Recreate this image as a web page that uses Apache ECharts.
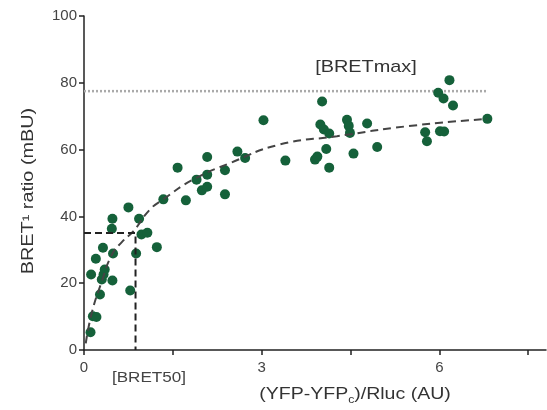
<!DOCTYPE html>
<html>
<head>
<meta charset="utf-8">
<script src="https://cdn.jsdelivr.net/npm/echarts@6/dist/echarts.min.js"></script>
<style>
html,body{margin:0;padding:0;background:#fff;}
#chart{width:547px;height:410px;}
</style>
</head>
<body>
<div id="chart"></div>
<script>
// 数据点 (YFP-YFPc)/Rluc vs BRET ratio
var pointX = [0.11,0.15,0.21,0.27,0.12,0.30,0.33,0.35,0.48,0.78,0.20,0.32,0.49,0.88,0.47,0.48,0.93,0.75,0.97,1.07,
	1.23,1.34,1.72,1.58,1.90,2.08,1.99,2.08,2.38,2.38,2.08,2.59,2.72,3.03,3.40,3.90,3.94,4.02,3.99,4.05,
	4.14,4.09,4.14,4.44,4.47,4.49,4.55,4.78,4.95,5.76,5.79,6.01,6.08,5.98,6.07,6.23,6.17,6.81];
var pointY = [5.3,10.1,9.9,16.6,22.6,21.1,22.6,24.1,20.8,17.8,27.3,30.6,28.9,28.9,36.3,39.3,39.3,42.7,34.6,35.1,
	30.8,45.1,44.8,54.6,51.0,52.5,47.8,48.9,46.6,53.8,57.8,59.4,57.5,68.8,56.7,57.0,57.9,74.4,67.5,66.0,
	64.8,60.2,54.6,68.9,67.1,65.0,58.8,67.8,60.8,65.2,62.5,65.5,65.4,77.0,75.3,73.2,80.8,69.2];
// 拟合曲线
var fitX = [0.03,0.13,0.30,0.47,0.65,0.83,1.11,1.33,1.84,2.47,3.30,4.27,5.46,6.81];
var fitY = [2,11,20.5,28.5,32.5,35.5,42,45,51,56,61.5,64,67,69.2];
// BRETmax / BRET50
var bretMax = 77.5;
var bretMaxEnd = 6.8;
var bret50X = 0.87;
var bret50Y = 35;
// 坐标轴刻度
var xTicks = [0,1.5,3,4.5,6,7.5];
var xLabels = [0,3,6];

var myChart = echarts.init(document.getElementById('chart'));

function zip(a,b){
	var out = [];
	for(var i=0;i<a.length;i++){
		out.push([a[i],b[i]]);
	}
	return out;
}

var font = 'Liberation Sans, Arial, sans-serif';
var option = {
	animation:false,
	grid:{left:84,right:1,top:16,bottom:60},
	xAxis:{
		type:'value',
		min:0,
		max:7.8,
		splitLine:{show:false},
		axisLine:{lineStyle:{color:'#222',width:1.5}},
		axisTick:{show:true,length:5,customValues:xTicks,lineStyle:{color:'#222',width:1.5}},
		axisLabel:{customValues:xLabels,color:'#444',fontSize:15,fontFamily:font,margin:10}
	},
	yAxis:{
		type:'value',
		min:0,
		max:100,
		interval:20,
		splitLine:{show:false},
		axisLine:{show:true,lineStyle:{color:'#222',width:1.5}},
		axisTick:{show:true,length:5,lineStyle:{color:'#222',width:1.5}},
		axisLabel:{color:'#444',fontSize:15,fontFamily:font,margin:7}
	},
	graphic:[
		{
			type:'text',x:355,y:395,scaleX:1.22,
			style:{
				text:'(YFP-YFP{sub|c})/Rluc (AU)',
				fontSize:16,fontFamily:font,fill:'#333',
				align:'center',verticalAlign:'middle',
				rich:{sub:{fontSize:10,fontFamily:font,fill:'#333',padding:[10,0,0,0]}}
			}
		},
		{
			type:'text',x:29,y:191,rotation:Math.PI/2,scaleX:1.24,
			style:{text:'BRET¹ ratio (mBU)',fontSize:16,fontFamily:font,fill:'#333',align:'center',verticalAlign:'middle'}
		},
		{
			type:'text',x:366,y:67,scaleX:1.17,
			style:{text:'[BRETmax]',fontSize:17,fontFamily:font,fill:'#333',align:'center',verticalAlign:'middle'}
		},
		{
			type:'text',x:149,y:378,scaleX:1.22,
			style:{text:'[BRET50]',fontSize:14,fontFamily:font,fill:'#444',align:'center',verticalAlign:'middle'}
		}
	],
	series:[
		{
			type:'scatter',
			data:zip(pointX,pointY),
			symbolSize:10,
			itemStyle:{color:'#15613a',opacity:1},
			z:2
		},
		{
			type:'line',
			data:zip(fitX,fitY),
			smooth:true,
			symbol:'none',
			lineStyle:{color:'#444',width:2,type:[8,5]},
			z:3
		},
		{
			type:'line',
			data:[[0,bretMax],[bretMaxEnd,bretMax]],
			symbol:'none',
			lineStyle:{color:'#aaa',width:2.5,type:[2,2]},
			z:1
		},
		{
			type:'line',
			data:[[0,bret50Y],[bret50X,bret50Y],[bret50X,0]],
			symbol:'none',
			lineStyle:{color:'#222',width:2,type:[7,4]},
			z:3
		}
	]
};
myChart.setOption(option);
</script>
</body>
</html>
